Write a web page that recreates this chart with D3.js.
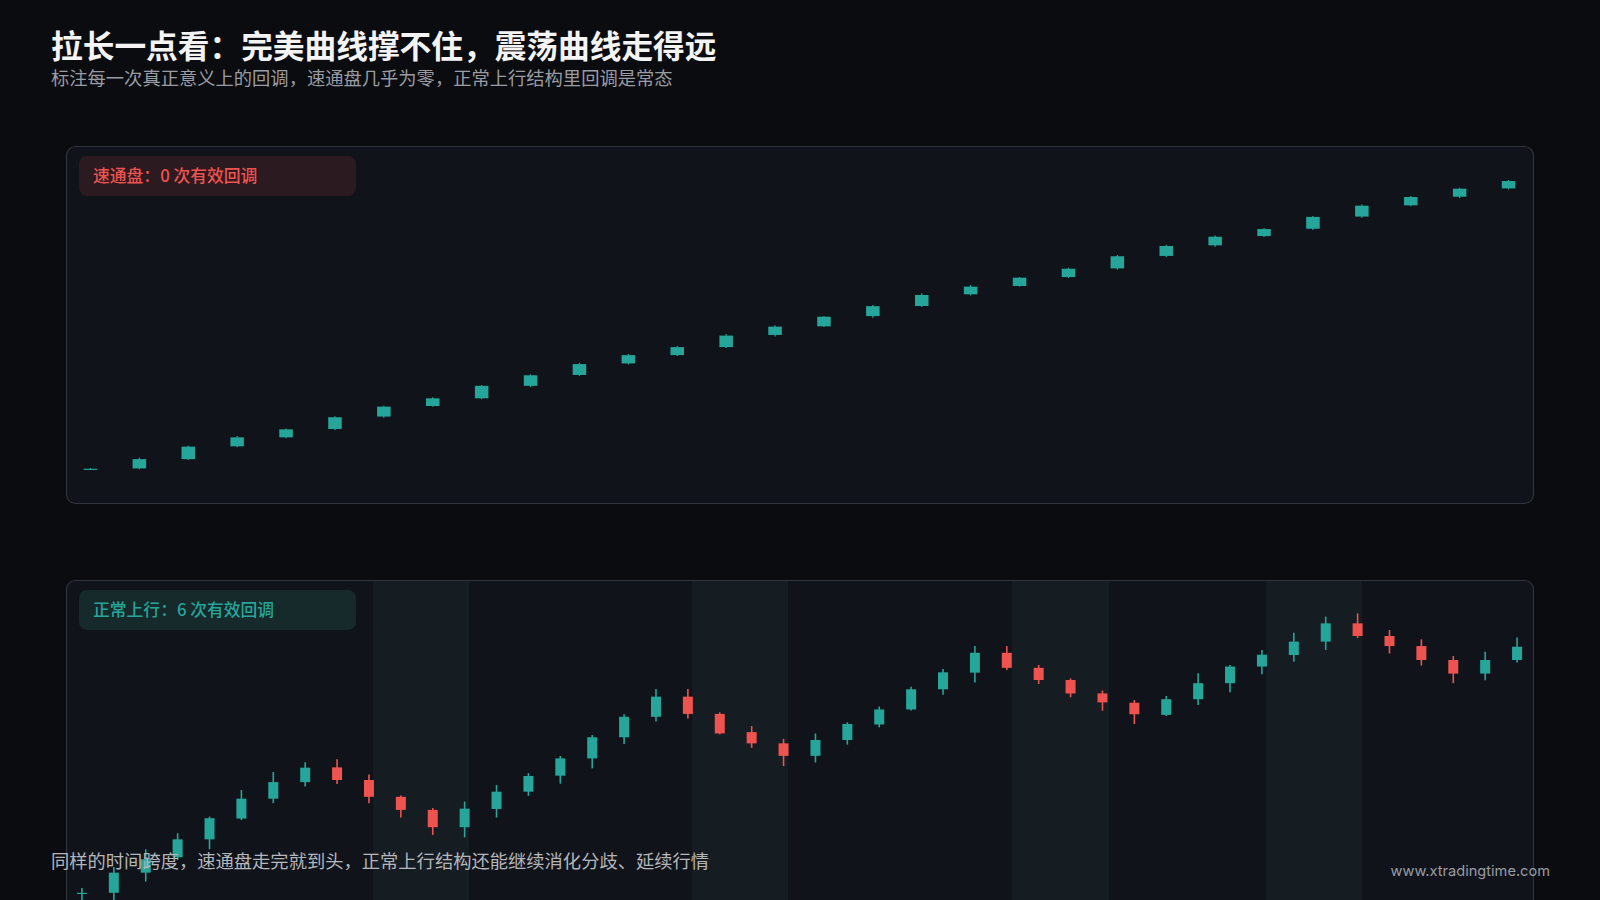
<!DOCTYPE html>
<html><head><meta charset="utf-8">
<script src="https://cdn.jsdelivr.net/npm/d3@7"></script>
<style>
html,body{margin:0;padding:0;background:#0b0c10;overflow:hidden}
svg{display:block}
</style></head>
<body>
<svg id="chart" width="1600" height="900"></svg>
<script>
// ---------- DATA ----------
const titleText = "拉长一点看：完美曲线撑不住，震荡曲线走得远";
const subtitleText = "标注每一次真正意义上的回调，速通盘几乎为零，正常上行结构里回调是常态";
const footerText = "同样的时间跨度，速通盘走完就到头，正常上行结构还能继续消化分歧、延续行情";
const watermarkText = "www.xtradingtime.com";
const topLabel = "速通盘：0 次有效回调";
const bottomLabel = "正常上行：6 次有效回调";

// Top panel ("speed-run") candles
const fastOpen  = [5.2,5.5,8.4,12.4,15.2,17.8,21.7,25.0,27.4,31.3,34.7,38.3,40.9,43.4,47.2,49.9,53.1,56.25,59.9,62.5,65.3,68.0,71.9,75.2,78.1,80.4,84.2,87.7,90.4,93.0];
const fastClose = [5.4,8.4,12.3,15.2,17.7,21.5,24.8,27.4,31.3,34.6,38.1,40.9,43.4,47.0,49.8,52.9,56.2,59.7,62.3,65.1,67.9,71.8,75.0,77.9,80.3,84.1,87.6,90.3,92.9,95.3];
const fastHigh  = [5.6,8.8,12.6,15.6,18.0,21.8,25.1,27.7,31.6,34.9,38.5,41.25,43.75,47.5,50.2,53.1,56.6,60.2,62.8,65.3,68.2,72.2,75.4,78.3,80.6,84.4,88.0,90.6,93.2,95.6];
const fastLow   = [5.0,5.2,8.1,12.1,14.9,17.4,21.3,24.8,27.1,30.9,34.4,38.0,40.6,43.1,46.7,49.7,52.6,55.9,59.5,62.3,65.0,67.6,71.5,74.8,77.8,80.0,83.8,87.4,90.0,92.7];

// Bottom panel ("normal uptrend") candles
const normOpen  = [8.3,8.5,14.8,19.6,25.2,31.7,37.9,43.1,47.7,43.75,38.5,34.4,29.0,34.7,40.1,45.1,50.5,57.1,63.5,69.8,64.4,58.7,55.2,51.3,56.25,61.1,65.8,72.1,77.3,83.5,78.8,75.0,70.8,67.9,64.1,69.0,74.0,79.2,82.8,87.0,92.7,88.75,85.6,81.25,77.0,81.25];
const normClose = [8.5,14.8,19.0,25.2,31.8,37.9,43.1,47.6,43.75,38.5,34.4,29.0,34.8,40.1,45.0,50.5,57.1,63.5,69.8,64.4,58.3,55.2,51.3,56.25,61.25,65.8,72.1,77.4,83.5,78.8,75.0,70.8,68.0,64.3,69.0,74.0,79.2,82.9,87.0,92.7,88.75,85.6,81.25,77.0,81.25,85.4];
const normHigh  = [10.0,16.6,22.1,27.1,32.3,40.6,46.25,49.3,50.2,45.5,38.9,35.0,37.0,42.2,45.9,51.25,57.8,64.3,72.2,72.2,64.9,60.6,56.6,58.3,61.8,66.7,72.9,78.4,85.6,85.6,79.7,75.5,71.7,68.75,70.0,77.1,79.7,84.4,89.8,94.8,95.8,90.6,87.7,82.5,83.8,88.3];
const normLow   = [4.7,5.0,12.0,18.75,22.1,31.25,36.5,41.7,42.5,36.5,32.0,26.6,25.8,32.0,38.8,42.6,47.4,55.0,62.0,63.0,58.0,53.8,48.1,49.2,54.8,60.2,65.5,70.4,74.2,78.1,73.75,69.6,65.4,61.25,63.75,67.2,71.2,76.8,80.7,84.4,88.1,83.3,79.5,74.0,74.9,80.5];

// Highlighted pullback zones (in candle-index units)
const zoneStart = [9.63, 19.63, 29.66, 37.63];
const zoneEnd   = [12.64, 22.64, 32.7, 40.64];

// ---------- STYLE ----------
const UP = "#26a69a", DOWN = "#ef5350";
const svg = d3.select("#chart");
const FONT = "'Noto Sans CJK SC','Noto Sans',sans-serif";

svg.append("rect").attr("width",1600).attr("height",900).attr("fill","#0b0c10");

svg.append("text").attr("x",51).attr("y",57.5).text(titleText)
  .attr("fill","#f4f4f5").attr("font-family",FONT).attr("font-size",31.7).attr("font-weight",700);
svg.append("text").attr("x",51).attr("y",85).text(subtitleText)
  .attr("fill","#9a9ca3").attr("font-family",FONT).attr("font-size",18.3);

const panelX = 66, panelW = 1467, panelH = 357;

function panel(top, opens, closes, highs, lows, label, labelColor, badgeFill, bodyW, wickW, zones) {
  const g = svg.append("g");
  g.append("rect").attr("x",panelX+0.5).attr("y",top+0.5).attr("width",panelW).attr("height",panelH)
    .attr("rx",9).attr("fill","#10141a").attr("stroke","#30343c").attr("stroke-width",1.2);
  const n = opens.length;
  const idx = d3.range(n);
  const x = d3.scaleBand().domain(idx).range([panelX, panelX+panelW]).padding(0);
  const xl = d3.scaleLinear().domain([0,n]).range([panelX, panelX+panelW]);
  const y = d3.scaleLinear().domain([0,100]).range([top+340, top+20]);
  if (zones) {
    g.selectAll(".zone").data(zones[0]).join("rect")
      .attr("x", d=>xl(d)).attr("width",(d,i)=>xl(zones[1][i])-xl(d))
      .attr("y", top+1).attr("height", panelH-1)
      .attr("fill","#151c22");
  }
  // badge
  g.append("rect").attr("x",79).attr("y",top+10).attr("width",277).attr("height",40).attr("rx",8).attr("fill",badgeFill);
  g.append("text").attr("x",93).attr("y",top+36).text(label).attr("fill",labelColor)
    .attr("font-family",FONT).attr("font-size",16.8).attr("font-weight",500);
  const c = g.selectAll(".candle").data(idx).join("g");
  const col = i => closes[i] >= opens[i] ? UP : DOWN;
  c.append("line")
    .attr("x1", i=>x(i)+x.bandwidth()/2).attr("x2", i=>x(i)+x.bandwidth()/2)
    .attr("y1", i=>y(highs[i])).attr("y2", i=>y(lows[i]))
    .attr("stroke", col).attr("stroke-width", wickW);
  c.append("rect")
    .attr("x", i=>x(i)+x.bandwidth()/2-bodyW/2).attr("width", bodyW)
    .attr("y", i=>y(Math.max(opens[i],closes[i])))
    .attr("height", i=>Math.max(1.2, Math.abs(y(opens[i])-y(closes[i]))))
    .attr("fill", col);
}

panel(146, fastOpen, fastClose, fastHigh, fastLow, topLabel, "#ef5350", "#2b1a1f", 13.5, 1.2, null);
panel(580, normOpen, normClose, normHigh, normLow, bottomLabel, "#26a69a", "#16292b", 10, 1.6, [zoneStart, zoneEnd]);

svg.append("text").attr("x",51).attr("y",868).text(footerText)
  .attr("fill","#b4b6bb").attr("font-family",FONT).attr("font-size",18.3);
svg.append("text").attr("x",1550).attr("y",876).attr("text-anchor","end").text(watermarkText)
  .attr("fill","#9a9ca3").attr("font-family","Inter, 'Noto Sans', sans-serif").attr("font-size",14.6);
</script>
</body></html>
